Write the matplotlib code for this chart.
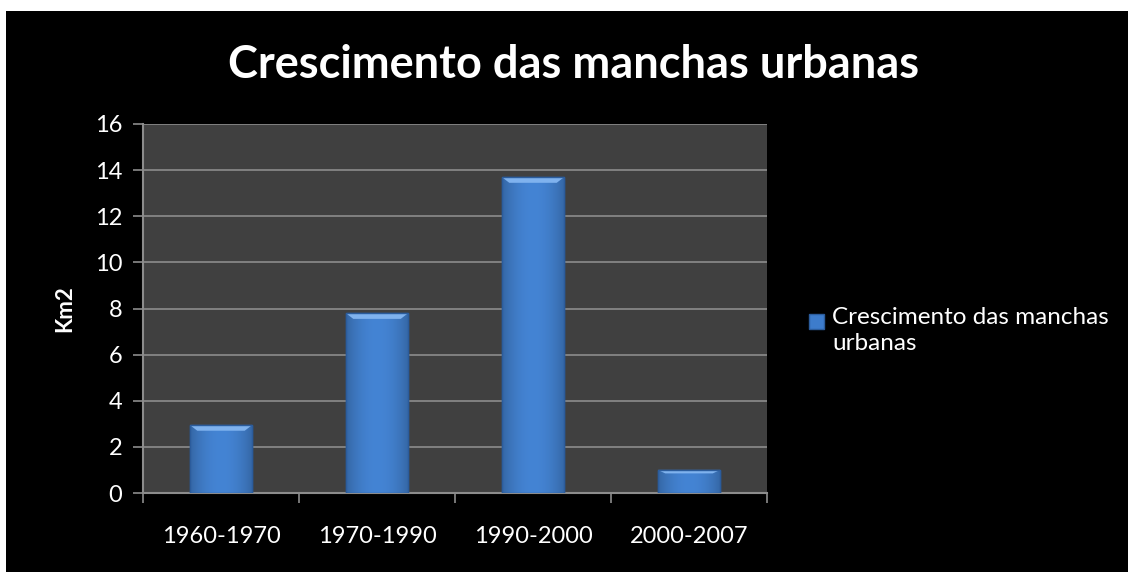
import numpy as np
import matplotlib
matplotlib.use('Agg')
import matplotlib.pyplot as plt
from matplotlib.patches import Rectangle

# data
periods = ['1960-1970', '1970-1990', '1990-2000', '2000-2007']
growth = [2.95, 7.8, 13.7, 1.0]
series_name = 'Crescimento das manchas\nurbanas'
title = 'Crescimento das manchas urbanas'

plt.rcParams['font.family'] = ['Lato', 'DejaVu Sans']

W, H = 1128, 572
fig = plt.figure(figsize=(W / 100, H / 100), dpi=100, facecolor='white')
# black chart area (white strip on top and left like the screenshot)
fig.patches.append(Rectangle((6 / W, 0), 1 - 6 / W, 561 / H, transform=fig.transFigure,
                             facecolor='black', edgecolor='none', zorder=-10))

ax = fig.add_axes([143 / W, 1 - 493 / H, 624 / W, 369 / H])
ax.set_zorder(1)
ax.set_facecolor('#404040')

x = np.arange(len(periods))
bars = ax.bar(x, growth, width=0.4, color='#3d7ccc', edgecolor='#2b5c9c', linewidth=1, zorder=3)

# soft shading on each bar: darker at the sides, lighter top bevel
grad = np.linspace(0, 1, 64)
shade = 1 - 0.22 * (2 * np.abs(grad - 0.5)) ** 2
base = np.array(matplotlib.colors.to_rgb('#4484d4'))
for b in bars:
    bx, by, bw, bh = b.get_x(), b.get_y(), b.get_width(), b.get_height()
    img = shade[None, :, None] * base[None, None, :]
    im = ax.imshow(img, extent=(bx, bx + bw, by, by + bh), aspect='auto', zorder=4,
                   interpolation='bilinear')
    im.set_clip_path(b)
    top = min(0.25, bh * 0.15)
    ax.add_patch(plt.Polygon([(bx, by + bh), (bx + bw, by + bh),
                              (bx + bw * 0.88, by + bh - top), (bx + bw * 0.12, by + bh - top)],
                             closed=True, facecolor='#7fb2ee', edgecolor='none', zorder=5))
    ax.add_patch(Rectangle((bx, by), bw, bh, facecolor='none', edgecolor='#2b5c9c',
                           linewidth=1, zorder=6))

ax.set_xlim(-0.5, len(periods) - 0.5)
ax.set_ylim(0, 16)
ax.set_yticks(range(0, 17, 2))
ax.set_xticks(np.arange(-0.5, len(periods), 1))
ax.set_xticklabels([])
ax.set_xticks(x, minor=True)
ax.set_xticklabels(periods, minor=True)
ax.tick_params(axis='x', which='minor', length=0, pad=24, labelsize=17, labelcolor='white')
ax.tick_params(axis='x', which='major', length=7, color='#8c8c8c', width=1.2)
ax.tick_params(axis='y', length=7, color='#8c8c8c', width=1.2, labelsize=17,
               labelcolor='white', pad=8)
ax.grid(axis='y', color='#8c8c8c', linewidth=1.2, zorder=1)
ax.set_axisbelow(True)
for s in ['top', 'right']:
    ax.spines[s].set_visible(False)
for s in ['left', 'bottom']:
    ax.spines[s].set_color('#8c8c8c')
    ax.spines[s].set_linewidth(1.5)

ax.set_ylabel('Km2', color='white', fontsize=16, fontweight='bold', labelpad=14)

fig.text(574 / W, 1 - 65 / H, title, color='white', fontsize=32.5, fontweight='bold',
         ha='center', va='center')

# legend
fig.patches.append(Rectangle((809 / W, 1 - 329 / H), 15 / W, 15 / H, transform=fig.transFigure,
                             facecolor='#3d7ccc', edgecolor='#2b5c9c', zorder=2))
fig.text(832 / W, 1 - 307 / H, series_name, color='white', fontsize=17.5, ha='left', va='top',
         linespacing=1.3)

fig.savefig('out.png', dpi=100, facecolor=fig.get_facecolor())
